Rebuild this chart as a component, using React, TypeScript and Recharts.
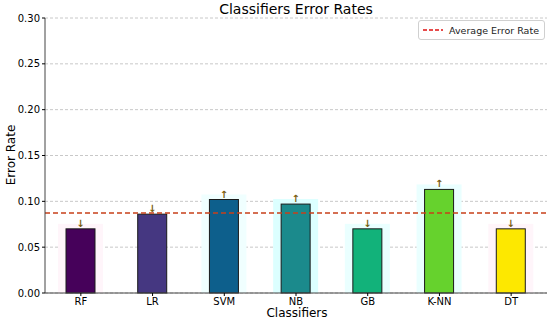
import React from 'react';
import { BarChart, Bar, XAxis, YAxis, CartesianGrid, ReferenceLine, LabelList, Cell } from 'recharts';

const categories = ['RF', 'LR', 'SVM', 'NB', 'GB', 'K-NN', 'DT'];
const errorRates = [0.070, 0.086, 0.102, 0.097, 0.070, 0.113, 0.070];
const barColors = ['#46015a', '#453781', '#0d5f8c', '#1b8a8c', '#12b27a', '#66d22d', '#fde800'];
const haloColors = ['#fff5fa', 'none', '#f0ffff', '#dcffff', '#eaffff', '#eaffff', '#fff5fa'];
const averageErrorRate = 0.0873;
const yTicks = [0, 0.05, 0.1, 0.15, 0.2, 0.25, 0.3];

const data = categories.map((c, i) => ({ name: c, value: errorRates[i], idx: i }));

const font = 'DejaVu Sans, sans-serif';

const BarShape = (props: any) => {
  const { x, y, width, height, payload } = props;
  const i = payload.idx;
  const halo = haloColors[i];
  return (
    <g>
      {halo !== 'none' && (
        <rect x={x - 8} y={y - 5} width={width + 16} height={height + 5} fill={halo} />
      )}
      <rect x={x} y={y} width={width} height={height} fill={barColors[i]} stroke="#1a1a1a" strokeWidth={1} />
    </g>
  );
};

const ArrowLabel = (props: any) => {
  const { x, y, width, index } = props;
  const up = errorRates[index] > averageErrorRate;
  return (
    <text x={x + width / 2} y={y - 2} textAnchor="middle" fontSize={10} fontWeight="bold" fill="#7a5e10" fontFamily={font}>
      {up ? '↑' : '↓'}
    </text>
  );
};

export default function App() {
  return (
    <div style={{ position: 'absolute', left: 0, top: 0, width: 550, height: 323, background: '#fff' }}>
      <div style={{ position: 'absolute', left: 45, width: 502, top: 1, textAlign: 'center', fontFamily: font, fontSize: 14, color: '#000' }}>
        Classifiers Error Rates
      </div>
      <div style={{ position: 'absolute', left: 11, top: 155, fontFamily: font, fontSize: 12, color: '#000', transform: 'translate(-50%, -50%) rotate(-90deg)', whiteSpace: 'nowrap' }}>
        Error Rate
      </div>
      <div style={{ position: 'absolute', left: 0, top: 306, width: 594, textAlign: 'center', fontFamily: font, fontSize: 12, color: '#000' }}>
        Classifiers
      </div>
      <BarChart width={550} height={323} data={data} margin={{ top: 18, right: 3, bottom: 0, left: 0 }} barCategoryGap="30%">
        <CartesianGrid vertical={false} stroke="#c8c8c8" strokeDasharray="3 2" />
        <XAxis dataKey="name" tick={{ fontSize: 10, fill: '#000', fontFamily: font }} tickLine={{ stroke: '#000' }} tickSize={3} axisLine={{ stroke: '#444' }} height={30} />
        <XAxis xAxisId="top" orientation="top" dataKey="name" tick={false} tickLine={false} axisLine={{ stroke: '#444' }} height={0} />
        <YAxis domain={[0, 0.3]} ticks={yTicks} tickFormatter={(v: number) => v.toFixed(2)} width={45}
          tick={{ fontSize: 10, fill: '#000', fontFamily: font }} tickLine={{ stroke: '#000' }} tickSize={3} axisLine={{ stroke: '#444' }} />
        <YAxis yAxisId="right" orientation="right" domain={[0, 0.3]} tick={false} tickLine={false} axisLine={{ stroke: '#444' }} width={0} />
        <Bar dataKey="value" isAnimationActive={false} shape={<BarShape />} barSize={29}>
          {data.map((d, i) => <Cell key={i} fill={barColors[i]} />)}
          <LabelList dataKey="value" content={<ArrowLabel />} />
        </Bar>
        <ReferenceLine y={averageErrorRate} stroke="#c8401a" strokeWidth={1.5} strokeDasharray="5 3" />
      </BarChart>
      <div style={{ position: 'absolute', left: 418, top: 20, width: 127, height: 20, border: '1px solid #d0d0d0', borderRadius: 3, background: '#fff', boxSizing: 'border-box', display: 'flex', alignItems: 'center', fontFamily: font, fontSize: 9.5, color: '#222' }}>
        <svg width={22} height={10} style={{ marginLeft: 4, marginRight: 4, flex: 'none' }}>
          <line x1={0} y1={5} x2={20} y2={5} stroke="#e01010" strokeWidth={1.5} strokeDasharray="4 2" />
        </svg>
        <span style={{ whiteSpace: 'nowrap' }}>Average Error Rate</span>
      </div>
    </div>
  );
}
